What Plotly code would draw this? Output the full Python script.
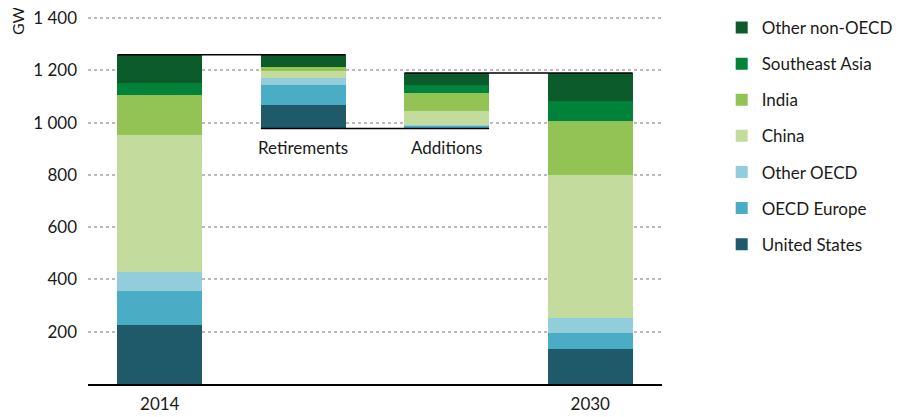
import plotly.graph_objects as go

categories = ["2014", "Retirements", "Additions", "2030"]
tick_labels = ["2014", "", "", "2030"]
regions = ["United States", "OECD Europe", "Other OECD", "China", "India",
           "Southeast Asia", "Other non-OECD"]
colors = ["#1F5A6B", "#4BACC6", "#92CDDC", "#C4DB9E", "#93C255", "#00823A", "#0B5C2A"]

cap_2014 = [225, 130, 73, 523, 153, 47, 108]
retirements = [92, 76, 24, 29, 15, 0, 46]
additions = [0, 10, 5, 53, 69, 30, 46]
cap_2030 = [133, 64, 54, 547, 207, 77, 108]

total_2014 = sum(cap_2014)
ret_base = total_2014 - sum(retirements)
total_2030 = ret_base + sum(additions)

FONT = "Lato"
TXT = "#1a1a1a"
fig = go.Figure()

# invisible base for floating bars
fig.add_trace(go.Bar(x=categories, y=[0, ret_base, ret_base, 0],
                     marker=dict(color="rgba(0,0,0,0)", line=dict(width=0)),
                     showlegend=False, hoverinfo="skip", width=0.59))
for i, r in enumerate(regions):
    fig.add_trace(go.Bar(
        x=categories,
        y=[cap_2014[i], retirements[i], additions[i], cap_2030[i]],
        name=r, marker=dict(color=colors[i], line=dict(width=0)),
        width=0.59, legendgroup=r, legendrank=100 - i,
    ))

hw = 0.295
line_style = dict(color="black", width=1.5)
fig.add_shape(type="line", xref="x", yref="y", x0=0 - hw, x1=1 + hw,
              y0=total_2014, y1=total_2014, line=line_style)
fig.add_shape(type="line", xref="x", yref="y", x0=1 - hw, x1=2 + hw,
              y0=ret_base, y1=ret_base, line=line_style)
fig.add_shape(type="line", xref="x", yref="y", x0=2 - hw, x1=3 + hw,
              y0=total_2030, y1=total_2030, line=line_style)

for idx, lab in [(1, "Retirements"), (2, "Additions")]:
    fig.add_annotation(x=idx, y=ret_base, xref="x", yref="y", text=lab,
                       showarrow=False, yanchor="top", yshift=-6,
                       font=dict(family=FONT, size=17, color=TXT))

fig.add_annotation(x=0, y=1400, xref="paper", yref="y", text="GW", textangle=-90,
                   showarrow=False, xshift=-71, yanchor="middle", xanchor="center",
                   yshift=-3, font=dict(family=FONT, size=16, color=TXT))

fig.update_layout(
    template="none",
    barmode="stack",
    width=910, height=417,
    margin=dict(l=80, r=256, t=2, b=41, autoexpand=False),
    plot_bgcolor="white", paper_bgcolor="white",
    font=dict(family=FONT, size=17, color=TXT),
    showlegend=True,
    legend=dict(traceorder="grouped", tracegroupgap=11,
                x=1.104, xanchor="left", y=1.0, yanchor="top",
                font=dict(family=FONT, size=17, color=TXT),
                itemwidth=30, maxheight=1, bgcolor="rgba(0,0,0,0)"),
    xaxis=dict(type="category", tickmode="array", tickvals=categories,
               ticktext=tick_labels, range=[-0.5, 3.5], showgrid=False,
               showline=True, linecolor="black", linewidth=1.5, ticks="",
               automargin=False, zeroline=False, ticklabelstandoff=4,
               tickfont=dict(family=FONT, size=17, color=TXT)),
    yaxis=dict(range=[0, 1430.6], tickvals=[200, 400, 600, 800, 1000, 1200, 1400],
               ticktext=["200", "400", "600", "800", "1 000", "1 200", "1 400"],
               showgrid=True, gridcolor="#BBBBBB", griddash="dot", gridwidth=1.5,
               zeroline=False, showline=False, ticks="", ticklabelstandoff=10,
               automargin=False, ticklabeloverflow="allow",
               tickfont=dict(family=FONT, size=17, color=TXT)),
)

fig.write_html("out.html")
